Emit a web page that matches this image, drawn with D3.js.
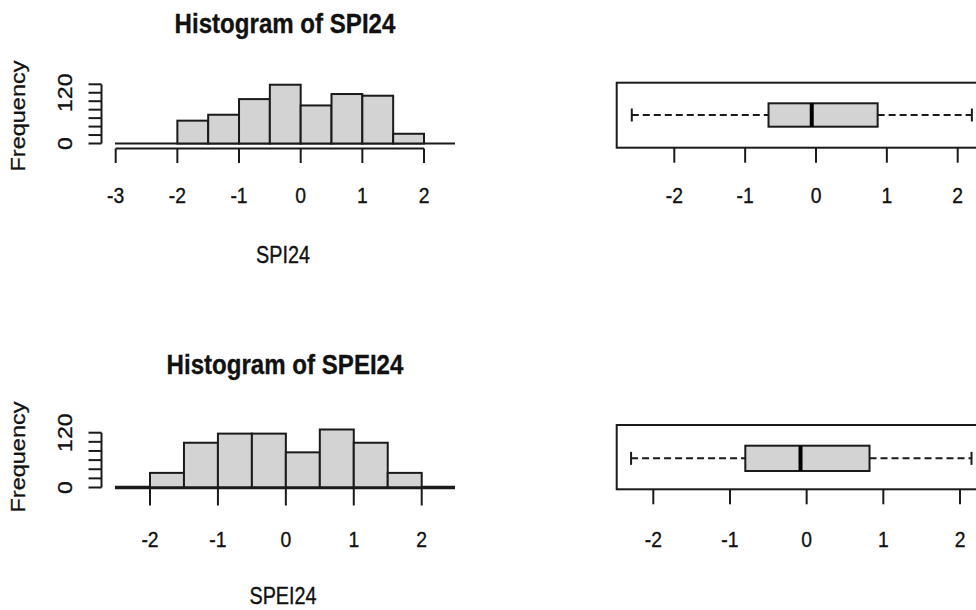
<!DOCTYPE html>
<html>
<head>
<meta charset="utf-8">
<script src="https://cdn.jsdelivr.net/npm/d3@7"></script>
<style>
	body { margin: 0; background: #fff; }
	svg { display: block; }
	text { font-family: "Liberation Sans", Arial, sans-serif; fill: #111; stroke: #111; stroke-width: 0.35px; }
</style>
</head>
<body>
<div id="chart"></div>
<script>

// histogram bins (both variables use the same breaks)
const breaks = [-2, -1.5, -1, -0.5, 0, 0.5, 1, 1.5, 2];
const spi24Counts = [54, 68, 105, 139, 90, 117, 113, 23];
const spei24Counts = [32, 98, 118, 118, 77, 127, 98, 32];

// boxplot stats: lower whisker, q1, median, q3, upper whisker
const spi24Box = [-2.60, -0.67, -0.06, 0.87, 2.20];
const spei24Box = [-2.29, -0.80, -0.08, 0.82, 2.15];

// ticks
const spiHistTicks = [-3, -2, -1, 0, 1, 2];
const speiHistTicks = [-2, -1, 0, 1, 2];
const boxTicks = [-2, -1, 0, 1, 2];
const freqTicksTop = [0, 20, 40, 60, 80, 100, 120, 140];
const freqTicksBottom = [0, 20, 40, 60, 80, 100, 120];
const freqLabels = [0, 120];

const W = 976, H = 610;
const ink = "#1a1a1a";
const lw = 2;
const fillGrey = "#d3d3d3";
const sx = 0.86; // the picture is squeezed sideways

let svg = d3.select("#chart")
	.append("svg")
	.attr("width", W)
	.attr("height", H);

// horizontal text, squeezed
function hText(g, x, y, txt, size, weight){
	g.append("text")
		.attr("transform", "translate(" + x + "," + y + ") scale(" + sx + ",1)")
		.attr("text-anchor", "middle")
		.attr("font-size", size)
		.attr("font-weight", weight || "normal")
		.text(txt);
}

// rotated text (reads upward)
function vText(g, x, y, txt, size){
	g.append("text")
		.attr("transform", "translate(" + x + "," + y + ") rotate(-90) scale(1," + sx + ")")
		.attr("text-anchor", "middle")
		.attr("font-size", size)
		.text(txt);
}

function histogram(cfg){
	let g = svg.append("g");
	let x = d3.scaleLinear().domain(cfg.xDomain).range(cfg.xRange);
	let y = d3.scaleLinear().domain(cfg.yDomain).range(cfg.yRange);

	// zero line across the plot region
	g.append("line")
		.attr("x1", cfg.regionLeft).attr("x2", cfg.regionRight)
		.attr("y1", y(0)).attr("y2", y(0))
		.attr("stroke", ink)
		.attr("stroke-width", cfg.zeroWidth);

	let bins = cfg.counts.map((c, i) => ({x0: breaks[i], x1: breaks[i + 1], n: c}));
	g.selectAll("rect.bar")
		.data(bins)
		.enter()
		.append("rect")
		.attr("class", "bar")
		.attr("x", d => x(d.x0))
		.attr("width", d => x(d.x1) - x(d.x0))
		.attr("y", d => y(d.n))
		.attr("height", d => y(0) - y(d.n))
		.attr("fill", fillGrey)
		.attr("stroke", ink)
		.attr("stroke-width", lw);

	// x axis
	let ax = g.append("g");
	let t = cfg.xTicks;
	ax.append("line")
		.attr("x1", x(t[0])).attr("x2", x(t[t.length - 1]))
		.attr("y1", cfg.axisY).attr("y2", cfg.axisY)
		.attr("stroke", ink).attr("stroke-width", lw);
	ax.selectAll("line.tk")
		.data(t)
		.enter()
		.append("line")
		.attr("class", "tk")
		.attr("x1", d => x(d)).attr("x2", d => x(d))
		.attr("y1", cfg.axisY).attr("y2", cfg.axisY + cfg.tickLen)
		.attr("stroke", ink).attr("stroke-width", lw);
	t.forEach(d => hText(ax, x(d), cfg.labelY, d, 22.5));

	// y axis
	let ay = g.append("g");
	let yt = cfg.yTicks;
	ay.append("line")
		.attr("x1", cfg.yAxisX).attr("x2", cfg.yAxisX)
		.attr("y1", y(yt[0])).attr("y2", y(yt[yt.length - 1]))
		.attr("stroke", ink).attr("stroke-width", lw);
	ay.selectAll("line.tk")
		.data(yt)
		.enter()
		.append("line")
		.attr("class", "tk")
		.attr("x1", cfg.yAxisX - 13).attr("x2", cfg.yAxisX)
		.attr("y1", d => y(d)).attr("y2", d => y(d))
		.attr("stroke", ink).attr("stroke-width", lw);
	freqLabels.forEach(d => vText(ay, 72, y(d), d, 23));

	hText(g, 285, cfg.titleY, cfg.title, 28, "bold");
	hText(g, 283, cfg.xlabY, cfg.xlab, 23);
	vText(g, 25, cfg.freqY, "Frequency", 23.5);
}

function boxplot(cfg){
	let g = svg.append("g");
	let x = d3.scaleLinear().domain([-2, 2]).range(cfg.xRange);
	let s = cfg.stats;
	let mid = (cfg.boxTop + cfg.boxBottom) / 2;

	// frame (runs off the right edge)
	g.append("rect")
		.attr("x", cfg.frameLeft)
		.attr("y", cfg.frameTop)
		.attr("width", 1000 - cfg.frameLeft)
		.attr("height", cfg.frameBottom - cfg.frameTop)
		.attr("fill", "none")
		.attr("stroke", ink)
		.attr("stroke-width", lw);

	// whiskers
	[[s[0], s[1]], [s[3], s[4]]].forEach(w => {
		g.append("line")
			.attr("x1", x(w[0])).attr("x2", x(w[1]))
			.attr("y1", mid).attr("y2", mid)
			.attr("stroke", ink).attr("stroke-width", lw)
			.attr("stroke-dasharray", "7,4");
	});
	[s[0], s[4]].forEach(v => {
		g.append("line")
			.attr("x1", x(v)).attr("x2", x(v))
			.attr("y1", mid - 6.5).attr("y2", mid + 6.5)
			.attr("stroke", ink).attr("stroke-width", lw);
	});

	g.append("rect")
		.attr("x", x(s[1]))
		.attr("width", x(s[3]) - x(s[1]))
		.attr("y", cfg.boxTop)
		.attr("height", cfg.boxBottom - cfg.boxTop)
		.attr("fill", fillGrey)
		.attr("stroke", ink)
		.attr("stroke-width", lw);

	g.append("line")
		.attr("x1", x(s[2])).attr("x2", x(s[2]))
		.attr("y1", cfg.boxTop).attr("y2", cfg.boxBottom)
		.attr("stroke", "#000").attr("stroke-width", 4);

	// axis ticks below frame
	g.selectAll("line.tk")
		.data(boxTicks)
		.enter()
		.append("line")
		.attr("class", "tk")
		.attr("x1", d => x(d)).attr("x2", d => x(d))
		.attr("y1", cfg.frameBottom).attr("y2", cfg.frameBottom + 15)
		.attr("stroke", ink).attr("stroke-width", lw);
	boxTicks.forEach(d => hText(g, x(d), cfg.labelY, d, 22.5));
}

histogram({
	counts: spi24Counts,
	xDomain: [-3, 2], xRange: [115.7, 424],
	yDomain: [0, 140], yRange: [143.5, 84.3],
	regionLeft: 115, regionRight: 455, zeroWidth: 2,
	xTicks: spiHistTicks, axisY: 148.5, tickLen: 14.5, labelY: 202.7,
	yTicks: freqTicksTop, yAxisX: 101.5,
	title: "Histogram of SPI24", titleY: 33.3,
	xlab: "SPI24", xlabY: 263, freqY: 116
});

histogram({
	counts: spei24Counts,
	xDomain: [-2, 2], xRange: [150, 421.7],
	yDomain: [0, 120], yRange: [487.5, 432.7],
	regionLeft: 115, regionRight: 455, zeroWidth: 3.5,
	xTicks: speiHistTicks, axisY: 487.5, tickLen: 18, labelY: 546.7,
	yTicks: freqTicksBottom, yAxisX: 101.5,
	title: "Histogram of SPEI24", titleY: 374,
	xlab: "SPEI24", xlabY: 604, freqY: 457
});

boxplot({
	stats: spi24Box,
	xRange: [674.3, 957.7],
	frameLeft: 616.7, frameTop: 82.7, frameBottom: 147.7,
	boxTop: 103.3, boxBottom: 126.7, labelY: 202.7
});

boxplot({
	stats: spei24Box,
	xRange: [653.3, 960],
	frameLeft: 616.7, frameTop: 425, frameBottom: 489.3,
	boxTop: 445.7, boxBottom: 471, labelY: 546.7
});

</script>
</body>
</html>
